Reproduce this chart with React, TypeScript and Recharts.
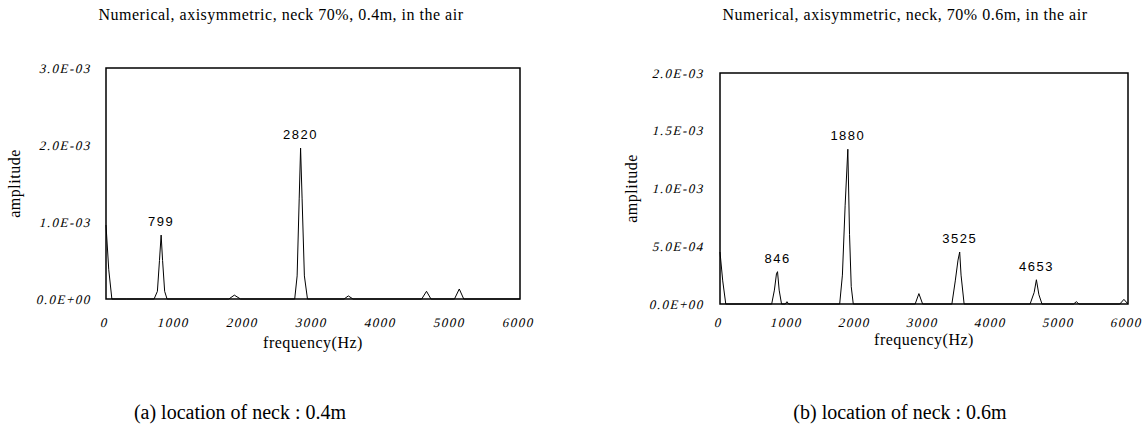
import React from "react";
import {
  LineChart, Line, XAxis, YAxis, ReferenceArea, ReferenceDot,
} from "recharts";

// (a) neck at 0.4m
const freqA = [0, 40, 85, 300, 697, 745, 775, 799, 820, 850, 885, 1780, 1860, 1950, 2735, 2770, 2800, 2820, 2842, 2875, 2920, 3450, 3512, 3580, 4575, 4645, 4710, 5050, 5120, 5185, 6000];
const ampA = [0.96e-3, 0.38e-3, 0, 0, 0, 0.1e-3, 0.5e-3, 0.83e-3, 0.5e-3, 0.1e-3, 0, 0, 0.05e-3, 0, 0, 0.3e-3, 1.3e-3, 1.96e-3, 1.3e-3, 0.3e-3, 0, 0, 0.04e-3, 0, 0, 0.1e-3, 0, 0, 0.13e-3, 0, 0];
const peaksA = [799, 2820];
const peakAmpA = [0.83e-3, 1.96e-3];

// (b) neck at 0.6m
const freqB = [0, 40, 85, 760, 800, 830, 846, 870, 905, 960, 985, 1010, 1760, 1800, 1840, 1880, 1905, 1930, 1960, 2870, 2925, 2980, 3410, 3460, 3500, 3525, 3545, 3590, 4560, 4620, 4653, 4690, 4735, 5200, 5240, 5280, 5880, 5940, 6000];
const ampB = [0.45e-3, 0.2e-3, 0, 0, 0.12e-3, 0.26e-3, 0.28e-3, 0.12e-3, 0, 0, 0.02e-3, 0, 0, 0.25e-3, 0.85e-3, 1.34e-3, 0.6e-3, 0.15e-3, 0, 0, 0.09e-3, 0, 0, 0.2e-3, 0.38e-3, 0.45e-3, 0.25e-3, 0, 0, 0.1e-3, 0.21e-3, 0.08e-3, 0, 0, 0.02e-3, 0, 0, 0.04e-3, 0];
const peaksB = [846, 1880, 3525, 4653];
const peakAmpB = [0.28e-3, 1.34e-3, 0.45e-3, 0.21e-3];

const xTicks = [0, 1000, 2000, 3000, 4000, 5000, 6000];
const yTicksA = [0, 1e-3, 2e-3, 3e-3];
const yTicksB = [0, 5e-4, 1e-3, 1.5e-3, 2e-3];

const serif = "Liberation Serif";
const sans = "Liberation Sans";

const yFmt = (v: number) => {
  if (v === 0) return "0.0E+00";
  const [m, e] = v.toExponential(1).split("e");
  const n = parseInt(e, 10);
  return `${m}E${n < 0 ? "-" : "+"}${String(Math.abs(n)).padStart(2, "0")}`;
};

// italic look via skew, the serif italic face falls back to a sans otherwise
const tickText: React.CSSProperties = {
  fontFamily: serif, fontSize: 13, letterSpacing: 1.5,
};

const XTick = ({ x, y, payload }: any) => (
  <g transform={`translate(${x},${y}) skewX(-14)`}>
    <text x={0} y={0} dy="0.71em" textAnchor="middle" fill="#000" style={tickText}>
      {payload.value}
    </text>
  </g>
);

const YTick = ({ x, y, payload }: any) => (
  <g transform={`translate(${x},${y}) skewX(-14)`}>
    <text x={0} y={0} dy="0.355em" textAnchor="end" fill="#000" style={tickText}>
      {yFmt(payload.value)}
    </text>
  </g>
);

interface SpectrumProps {
  freq: number[];
  amp: number[];
  peaks: number[];
  peakAmp: number[];
  yMax: number;
  yTicks: number[];
  width: number;
  margin: { top: number; right: number; bottom: number; left: number };
  yAxisWidth: number;
  xTickMargin: number;
  yTickMargin: number;
  xLabelOffset: number;
  yLabelOffset: number;
}

function Spectrum(p: SpectrumProps) {
  const data = p.freq.map((f, i) => ({ f, a: p.amp[i] }));
  return (
    <LineChart width={p.width} height={370} data={data} margin={p.margin}>
      <XAxis
        dataKey="f"
        type="number"
        domain={[0, 6000]}
        ticks={xTicks}
        axisLine={false}
        tickLine={false}
        tickSize={0}
        tickMargin={p.xTickMargin}
        height={50}
        tick={<XTick />}
        label={{
          value: "frequency(Hz)", position: "insideBottom", offset: p.xLabelOffset,
          fontFamily: serif, fontSize: 16, fill: "#000", letterSpacing: 0.5,
        }}
      />
      <YAxis
        type="number"
        domain={[0, p.yMax]}
        ticks={p.yTicks}
        axisLine={false}
        tickLine={false}
        tickSize={0}
        tickMargin={p.yTickMargin}
        width={p.yAxisWidth}
        tick={<YTick />}
        label={{
          value: "amplitude", angle: -90, position: "insideLeft", offset: p.yLabelOffset,
          fontFamily: serif, fontSize: 16, fill: "#000", letterSpacing: 0.5,
          style: { textAnchor: "middle" },
        }}
      />
      <ReferenceArea
        x1={0} x2={6000} y1={0} y2={p.yMax}
        fill="none" stroke="#000" strokeWidth={1.5} fillOpacity={0}
        ifOverflow="visible"
      />
      <Line
        type="linear"
        dataKey="a"
        stroke="#000"
        strokeWidth={1}
        dot={false}
        isAnimationActive={false}
      />
      {p.peaks.map((f, i) => (
        <ReferenceDot
          key={f}
          x={f}
          y={p.peakAmp[i]}
          r={0}
          fill="none"
          stroke="none"
          label={{
            value: String(f), position: "top", offset: 9,
            fontFamily: sans, fontSize: 13, fill: "#000", letterSpacing: 1.5,
          }}
        />
      ))}
    </LineChart>
  );
}

const titleStyle: React.CSSProperties = {
  position: "absolute", top: 6, width: 500, textAlign: "center",
  fontFamily: serif, fontSize: 16, lineHeight: "18px", color: "#000", letterSpacing: 0.5,
  whiteSpace: "nowrap",
};

const captionStyle: React.CSSProperties = {
  position: "absolute", top: 400, width: 400, textAlign: "center",
  fontFamily: serif, fontSize: 20, lineHeight: "24px", color: "#000",
  whiteSpace: "nowrap",
};

export default function App() {
  return (
    <div style={{ position: "absolute", left: 0, top: 0, width: 1146, height: 441, background: "#fff", overflow: "hidden" }}>
      <div style={{ ...titleStyle, left: 281 - 250 }}>Numerical, axisymmetric, neck 70%, 0.4m, in the air</div>
      <div style={{ ...titleStyle, left: 905 - 250 }}>Numerical, axisymmetric, neck, 70% 0.6m, in the air</div>
      <div style={{ position: "absolute", left: 0, top: 0 }}>
        <Spectrum
          freq={freqA} amp={ampA} peaks={peaksA} peakAmp={peakAmpA}
          yMax={3e-3} yTicks={yTicksA} width={560}
          margin={{ top: 68, right: 40, bottom: 21, left: 0 }}
          yAxisWidth={106} xTickMargin={19} yTickMargin={14}
          xLabelOffset={1} yLabelOffset={14}
        />
      </div>
      <div style={{ position: "absolute", left: 580, top: 0 }}>
        <Spectrum
          freq={freqB} amp={ampB} peaks={peaksB} peakAmp={peakAmpB}
          yMax={2e-3} yTicks={yTicksB} width={566}
          margin={{ top: 73, right: 18, bottom: 16, left: 0 }}
          yAxisWidth={140} xTickMargin={14} yTickMargin={15}
          xLabelOffset={9} yLabelOffset={51}
        />
      </div>
      <div style={{ ...captionStyle, left: 240 - 200 }}>(a) location of neck : 0.4m</div>
      <div style={{ ...captionStyle, left: 900 - 200 }}>(b) location of neck : 0.6m</div>
    </div>
  );
}
